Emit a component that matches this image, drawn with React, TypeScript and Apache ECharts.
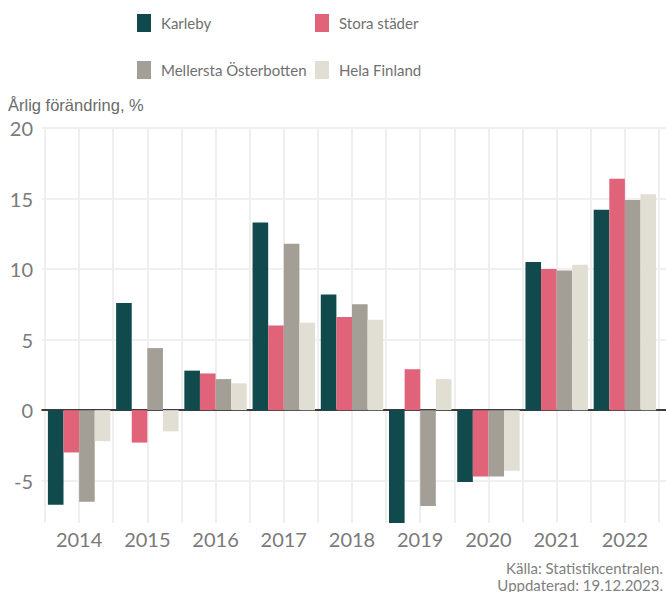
import React, { useEffect, useRef } from "react";
import * as echarts from "echarts";

const years = ["2014", "2015", "2016", "2017", "2018", "2019", "2020", "2021", "2022"];
const karleby = [-6.7, 7.6, 2.8, 13.3, 8.2, -8.3, -5.1, 10.5, 14.2];
const storaStader = [-3.0, -2.3, 2.6, 6.0, 6.6, 2.9, -4.7, 10.0, 16.4];
const mellerstaOsterbotten = [-6.5, 4.4, 2.2, 11.8, 7.5, -6.8, -4.7, 9.9, 14.9];
const helaFinland = [-2.2, -1.5, 1.9, 6.2, 6.4, 2.2, -4.3, 10.3, 15.3];

const seriesNames = ["Karleby", "Stora städer", "Mellersta Österbotten", "Hela Finland"];
const seriesColors = ["#114a4c", "#e0637a", "#a39f96", "#e1ded3"];
const seriesData = [karleby, storaStader, mellerstaOsterbotten, helaFinland];

const yMin = -8;
const yMax = 20;

const legendPos = [
  { left: 137, top: 14 },
  { left: 315, top: 14 },
  { left: 137, top: 61 },
  { left: 315, top: 61 },
];

export default function App() {
  const ref = useRef<HTMLDivElement>(null);
  useEffect(() => {
    if (!ref.current) return;
    const chart = echarts.init(ref.current, undefined, { renderer: "svg" });
    const font = "Lato, 'Noto Sans', sans-serif";
    chart.setOption({
      animation: false,
      backgroundColor: "#ffffff",
      title: {
        text: "Årlig förändring, %",
        left: 8,
        top: 96,
        padding: 0,
        textStyle: {
          fontFamily: "'Liberation Sans', Arial, sans-serif",
          fontSize: 16.5,
          fontWeight: "normal",
          color: "#6b6b6b",
        },
      },
      legend: seriesNames.map((n, i) => ({
        data: [n],
        left: legendPos[i].left,
        top: legendPos[i].top,
        padding: 0,
        icon: "rect",
        itemWidth: 14,
        itemHeight: 18,
        selectedMode: false,
        textStyle: {
          fontFamily: font,
          fontSize: 15,
          color: "#707070",
          padding: [0, 0, 0, 5],
        },
      })),
      grid: [
        { left: 45, top: 128, width: 614, height: 395, containLabel: false },
        { left: 42, top: 128, width: 680, height: 395, containLabel: false },
      ],
      xAxis: [
        {
          type: "category",
          gridIndex: 0,
          data: years,
          axisLine: { show: false },
          axisTick: { show: false },
          splitLine: { show: false },
          axisLabel: {
            fontFamily: font,
            fontSize: 20,
            color: "#7a7a7a",
            margin: 6,
          },
        },
        {
          type: "value",
          gridIndex: 0,
          min: 0,
          max: 18,
          interval: 1,
          position: "top",
          axisLine: { show: false },
          axisTick: { show: false },
          axisLabel: { show: false },
          splitLine: { show: true, lineStyle: { color: "#efefef", width: 2 } },
        },
        {
          type: "value",
          gridIndex: 1,
          min: 0,
          max: 1,
          axisLine: { show: true, onZero: true, lineStyle: { color: "#000000", width: 1.5 } },
          axisTick: { show: false },
          axisLabel: { show: false },
          splitLine: { show: false },
        },
      ],
      yAxis: [
        {
          type: "value",
          gridIndex: 0,
          min: yMin,
          max: yMax,
          axisLine: { show: false },
          axisTick: { show: false },
          splitLine: { show: false },
          axisLabel: {
            showMinLabel: false,
            fontFamily: font,
            fontSize: 20,
            color: "#7a7a7a",
            margin: 12,
          },
        },
        {
          type: "value",
          gridIndex: 1,
          min: yMin,
          max: yMax,
          axisLine: { show: false },
          axisTick: { show: false },
          axisLabel: { show: false },
          splitLine: {
            show: true,
            showMinLine: false,
            lineStyle: { color: "#f0f0f0", width: 2 },
          },
        },
      ],
      series: seriesNames.map((n, i) => ({
        name: n,
        type: "bar",
        xAxisIndex: 0,
        yAxisIndex: 0,
        data: seriesData[i],
        itemStyle: { color: seriesColors[i] },
        barGap: "0%",
        barCategoryGap: "8.5%",
        clip: true,
        z: 3,
      })),
      graphic: [
        {
          type: "text",
          right: 3,
          top: 559,
          style: {
            text: "Källa: Statistikcentralen.\nUppdaterad: 19.12.2023.",
            fontFamily: font,
            fontSize: 15,
            lineHeight: 17,
            fill: "#808080",
            textAlign: "right",
          },
        },
      ],
    });
    return () => chart.dispose();
  }, []);
  return (
    <div
      ref={ref}
      style={{ position: "absolute", left: 0, top: 0, width: 666, height: 592, overflow: "hidden" }}
    />
  );
}
